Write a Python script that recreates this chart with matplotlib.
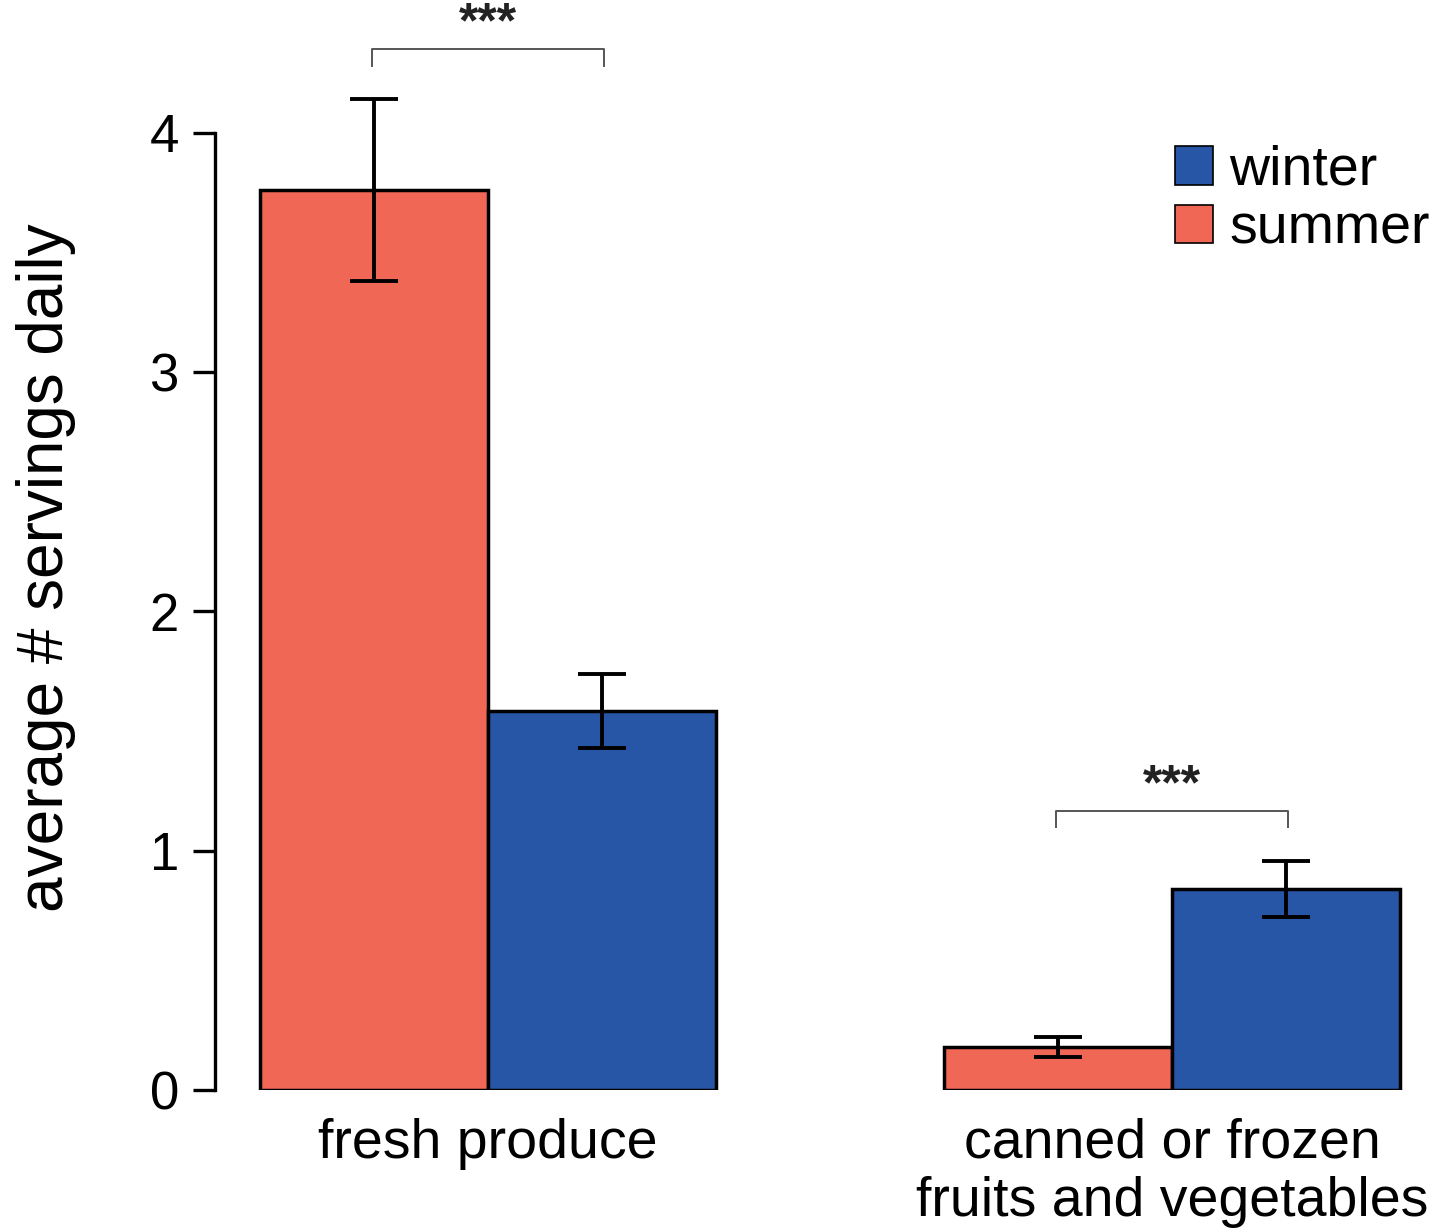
import matplotlib.pyplot as plt
from matplotlib.patches import Patch

plt.rcParams['font.family'] = ['Liberation Sans', 'DejaVu Sans']

categories = ["fresh produce", "canned or frozen\nfruits and vegetables"]
seasons = ["summer", "winter"]
summer_means = [3.76, 0.18]
summer_err = [0.38, 0.042]
winter_means = [1.585, 0.84]
winter_err = [0.155, 0.117]
significance = ["***", "***"]

red = "#F06755"
blue = "#2756A6"

fig = plt.figure(figsize=(14.35, 12.31), dpi=100)
ax = fig.add_axes([215 / 1435, 141 / 1231, 1205 / 1435, 1077 / 1231])

centers = [0, 3]
width = 1.0
summer_x = [c - width / 2 for c in centers]
winter_x = [c + width / 2 for c in centers]

err_kw = dict(ecolor="black", elinewidth=2.8, capsize=17, capthick=2.8)
ax.bar(summer_x, summer_means, width, color=red, edgecolor="black",
       linewidth=2.5, yerr=summer_err, error_kw=err_kw, zorder=2)
ax.bar(winter_x, winter_means, width, color=blue, edgecolor="black",
       linewidth=2.5, yerr=winter_err, error_kw=err_kw, zorder=2)

# significance brackets
for i, c in enumerate(centers):
    top = max(summer_means[i] + summer_err[i], winter_means[i] + winter_err[i])
    y = top + 0.21
    x0, x1 = summer_x[i] - 0.01, winter_x[i] + 0.01
    ax.plot([x0, x0, x1, x1], [y - 0.07, y, y, y - 0.07], color="#555555",
            linewidth=1.4, clip_on=False)
    ax.text(c, y + 0.005, significance[i], ha="center", va="bottom",
            fontsize=36, fontweight="bold", color="#222222")

ax.set_xlim(-1.197, 4.088)
ax.set_ylim(0, 4.5)
ax.set_yticks([0, 1, 2, 3, 4])
ax.spines['left'].set_bounds(0, 4)
ax.spines['left'].set_linewidth(2.4)
for s in ['top', 'right', 'bottom']:
    ax.spines[s].set_visible(False)
ax.tick_params(axis='y', length=16, width=2.4, labelsize=38, pad=10)
ax.set_xticks(centers)
ax.set_xticklabels(categories, fontsize=40, linespacing=1.15)
ax.tick_params(axis='x', length=0, pad=20)
ax.set_ylabel("average # servings daily", fontsize=46)
ax.yaxis.set_label_coords(-0.115, 0.485)

handles = [Patch(facecolor=blue, edgecolor="black", linewidth=1.2),
           Patch(facecolor=red, edgecolor="black", linewidth=1.2)]
ax.legend(handles, ["winter", "summer"], loc="upper left",
          bbox_to_anchor=(1136 / 1435, 1 - 106 / 1231),
          bbox_transform=fig.transFigure, frameon=False, fontsize=40,
          handlelength=0.68, handleheight=0.68, handletextpad=0.3,
          labelspacing=0.12, borderpad=0.2)

fig.savefig("out.png", dpi=100)
